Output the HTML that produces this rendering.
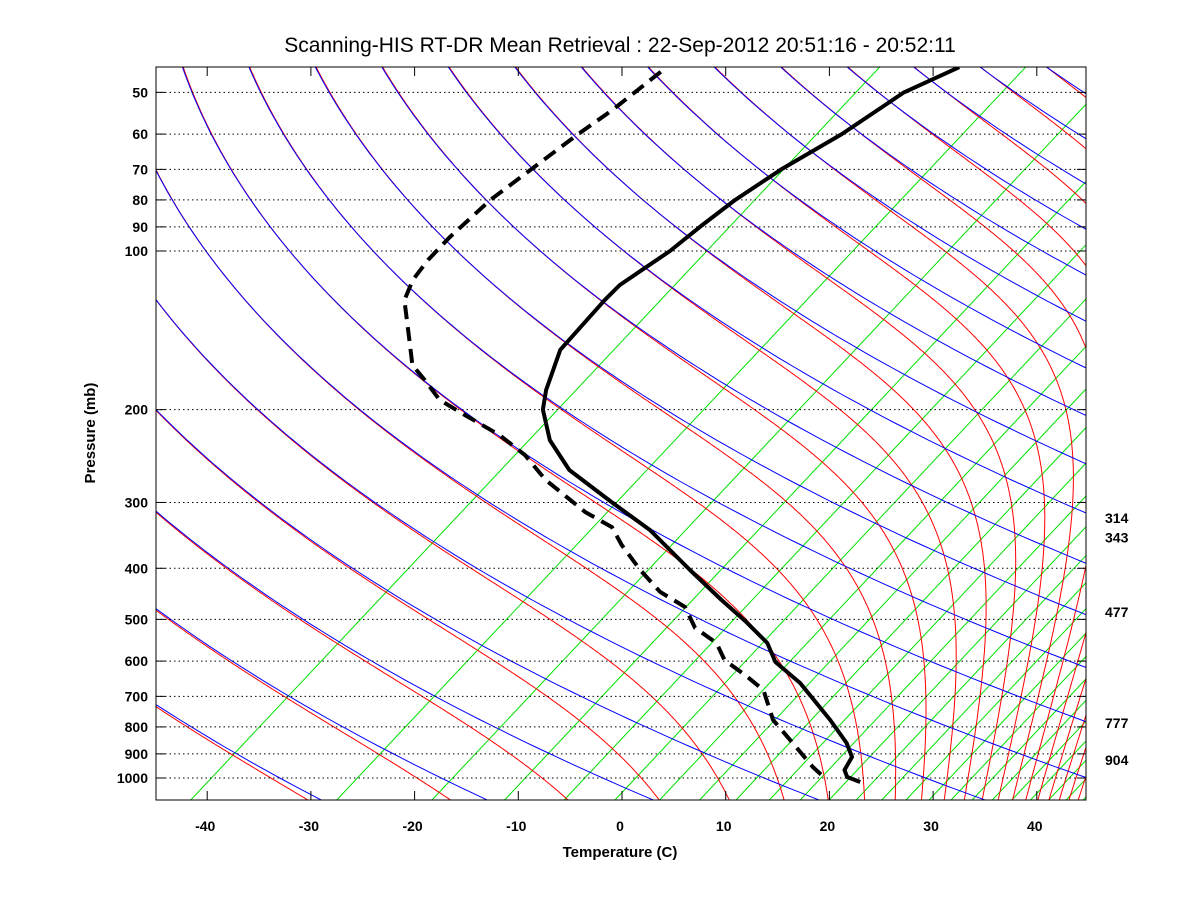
<!DOCTYPE html>
<html><head><meta charset="utf-8"><style>
body{margin:0;background:#fff;}
svg{display:block;font-family:"Liberation Sans",sans-serif;}
</style></head><body>
<svg id="chart" width="1200" height="900" viewBox="0 0 1200 900">
<rect x="0" y="0" width="1200" height="900" fill="#fff"/>
<defs><clipPath id="pc"><rect x="156" y="67" width="930" height="733"/></clipPath></defs>
<text x="620" y="52" text-anchor="middle" font-size="21">Scanning-HIS RT-DR Mean Retrieval : 22-Sep-2012 20:51:16 - 20:52:11</text>
<g id="bg" clip-path="url(#pc)"></g>
<g id="grid"></g>
<g id="snd" clip-path="url(#pc)"></g>
<rect x="156" y="67" width="930" height="733" fill="none" stroke="#000" stroke-width="1"/>
<g id="axes"></g>
<text x="620" y="857" text-anchor="middle" font-size="15" font-weight="bold">Temperature (C)</text>
<text transform="translate(95,433) rotate(-90)" text-anchor="middle" font-size="15" font-weight="bold">Pressure (mb)</text>
</svg>
<script>
const tempP=[44.8,50,60,70,80,90,100,116,124,154,183.6,200,228.5,260.3,300.7,338.4,403,459.5,503.6,554.4,602.4,660.3,702.1,776.3,858.3,912.4,965.6,995.6,1017.6];
const tempT=[-76.3,-77.9,-77.7,-78.3,-78.2,-77.6,-76.9,-76.7,-75.9,-72.8,-68.2,-65.6,-60.4,-54.1,-45.0,-37.4,-27.6,-20.1,-14.7,-9.3,-5.7,-0.2,3.0,8.2,13.2,15.8,17.0,18.3,20.3];
const dewP=[45.7,48.0,54.0,60.2,70.2,80.0,94.1,104.0,113.5,124,147.6,164.6,175.7,191.7,204.8,223.5,243.8,271.9,312.9,334.1,361.3,403,443.7,473.6,519.1,554.4,597.2,637.6,680.8,776.3,858.3,953.1,1008.8];
const dewT=[-104.4,-104.1,-103.4,-103.1,-102.4,-101.8,-100.2,-98.9,-97.4,-95.2,-88.8,-84.8,-81.4,-77.0,-72.3,-66.0,-60.6,-54.9,-46.3,-41.5,-37.9,-32.4,-27.2,-22.6,-18.5,-14.2,-10.9,-6.7,-2.7,2.7,8.0,13.5,16.8];
const xTicks=[-40,-30,-20,-10,0,10,20,30,40];
const pLabels=[50,60,70,80,90,100,200,300,400,500,600,700,800,900,1000];
const rightLabels=["314","343","477","777","904"];
const rightLabelP=[321,350,484,786,924];

const NS="http://www.w3.org/2000/svg";
const K=1.54, S=10.37;
function yOf(p){return 778+527*Math.log10(p/1000);}
function xOf(T,p){return 622+S*T+K*(800-yOf(p));}
function mk(tag,attrs,parent){const e=document.createElementNS(NS,tag);for(const k in attrs)e.setAttribute(k,attrs[k]);parent.appendChild(e);return e;}
const bg=document.getElementById('bg'),grid=document.getElementById('grid'),snd=document.getElementById('snd'),axes=document.getElementById('axes');
const ps=[];for(let lp=Math.log(1110);lp>=Math.log(43);lp-=0.02)ps.push(Math.exp(lp));
function pathFrom(pts){return 'M'+pts.map(q=>q[0].toFixed(1)+','+q[1].toFixed(1)).join('L');}

// green lines
for(let n=1;n<=27;n++){
  const e=Math.pow(0.407*n,2),l=Math.log(e/6.112),T=243.5*l/(17.67-l);
  const xb=618.5+10.36*T;
  const g=mk('line',{x1:xb,y1:800,x2:xb+0.94*740,y2:60,stroke:'#00e000','stroke-width':1},bg);
  
  
}
// red moist adiabats: each starts on a dry adiabat at the top, integrated downward
const D=20.5;
function lapse(Tm,p){
  const Tr=Tm-D,Tc=Tr-273.15;
  let es=6.112*Math.exp(17.67*Tc/(Tc+243.5));es=Math.min(es,p*0.4);
  const rs=0.622*es/(p-es);
  return (287.04*Tm+2.501e6*rs)/(1005.7+2.501e6*2.501e6*rs*0.622/(287.04*Tr*Tr));
}
for(let j=-14;j<=40;j++){
  const th=260.8+15.57*j;
  let lp=Math.log(43);let Tm=th*Math.pow(43/1000,0.2857);const pts=[];
  while(lp<Math.log(1110)){
    const p=Math.exp(lp),y=yOf(p);
    pts.push([374.8+S*(Tm-273.15)+K*(800-y),y]);
    Tm+=lapse(Tm,p)*0.005;lp+=0.005;
  }
  const r=mk('path',{d:pathFrom(pts),fill:'none',stroke:'#ff0000','stroke-width':1},bg);
  
  
}
// blue dry adiabats
for(let j=-14;j<=22;j++){
  const th=260.8+15.57*j;
  const pts=ps.map(p=>{const y=yOf(p);return [374.8+S*(th*Math.pow(p/1000,0.2857)-273.15)+K*(800-y)-0.8,y];});
  const b=mk('path',{d:pathFrom(pts),fill:'none',stroke:'#0000ff','stroke-width':1},bg);
  
  
}
// pressure grid + labels
pLabels.forEach(p=>{
  const y=yOf(p);
  const l=mk('line',{x1:156,y1:y,x2:1086,y2:y,stroke:'#000','stroke-width':1,'stroke-dasharray':'1.5,3'},grid);
  
  
  const t1=mk('line',{x1:156,y1:y,x2:165,y2:y,stroke:'#000'},axes);
  
  
  const t2=mk('line',{x1:1077,y1:y,x2:1086,y2:y,stroke:'#000'},axes);
  
  
  const t=mk('text',{x:148,y:y+5,'text-anchor':'end','font-size':14,'font-weight':'bold'},axes);
  t.textContent=p;
  
  
});
xTicks.forEach(T=>{
  const x=622+S*T;
  const a=mk('line',{x1:x,y1:800,x2:x,y2:791,stroke:'#000'},axes);
  
  
  const b=mk('line',{x1:x,y1:67,x2:x,y2:76,stroke:'#000'},axes);
  
  
  const t=mk('text',{x:x-2,y:831,'text-anchor':'middle','font-size':14,'font-weight':'bold'},axes);
  t.textContent=T;
  
  
});
rightLabels.forEach((s,i)=>{
  const t=mk('text',{x:1105,y:yOf(rightLabelP[i])+5,'font-size':14,'font-weight':'bold'},axes);
  t.textContent=s;
  
  
});
// sounding
const tp=mk('path',{d:pathFrom(tempP.map((p,i)=>[xOf(tempT[i],p),yOf(p)])),fill:'none',stroke:'#000','stroke-width':4,'stroke-linejoin':'round'},snd);


const dp=mk('path',{d:pathFrom(dewP.map((p,i)=>[xOf(dewT[i],p),yOf(p)])),fill:'none',stroke:'#000','stroke-width':4,'stroke-dasharray':'14,8'},snd);


</script>
</body></html>
